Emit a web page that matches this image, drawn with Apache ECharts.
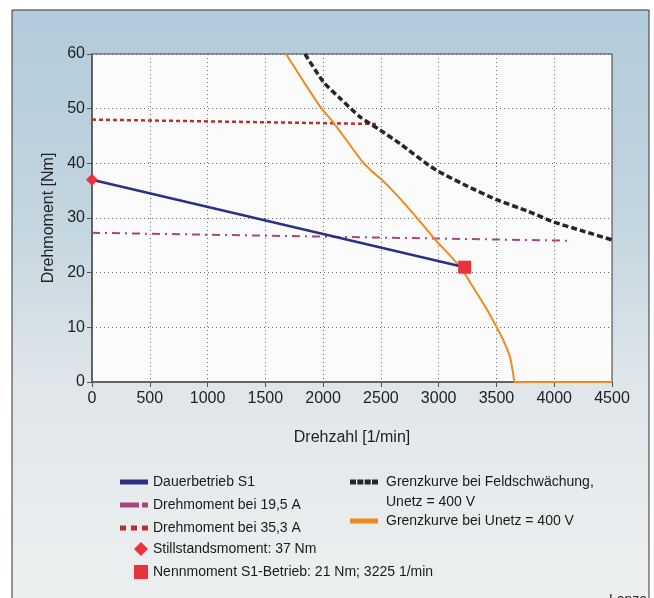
<!DOCTYPE html>
<html><head><meta charset="utf-8">
<script src="https://cdn.jsdelivr.net/npm/echarts@6/dist/echarts.min.js"></script>
<style>html,body{margin:0;padding:0;background:#fff}#c{width:654px;height:598px}</style>
</head><body><div id="c"></div>
<script>
const xTicks = [0,500,1000,1500,2000,2500,3000,3500,4000,4500];
const yTicks = [0,10,20,30,40,50,60];
const dauerS1 = [[0,37],[3225,21]];
const moment195A = [[0,27.3],[4115,25.85]];
const moment353A = [[0,48.0],[2463,47.2]];
const feldschwaechung = [[1843,60],[2002,54.9],[2146,51.9],[2319,48.5],[2492,46.1],[2665,43.6],[2911,39.7],[3000,38.5],[3250,35.8],[3496,33.4],[3776,31.2],[3992,29.3],[4250,27.6],[4500,26.0]];
const unetz = [[1679,60],[1830,55],[1987,50],[2088,47.5],[2210,44],[2340,40.3],[2420,38.6],[2492,37.3],[2620,34.6],[2752,31.5],[2968,26.1],[3185,21.1],[3300,17.3],[3400,13.9],[3500,10.1],[3560,7.6],[3617,4.6],[3645,1.5],[3660,0],[4500,0]];
const stillstand = [[0,37]];
const nennmoment = [[3225,21]];

const names = {
  s1: 'Dauerbetrieb S1',
  a195: 'Drehmoment bei 19,5 A',
  a353: 'Drehmoment bei 35,3 A',
  feld: 'Grenzkurve bei Feldschwächung, Unetz = 400 V',
  unetz: 'Grenzkurve bei Unetz = 400 V',
  still: 'Stillstandsmoment: 37 Nm',
  nenn: 'Nennmoment S1-Betrieb: 21 Nm; 3225 1/min'
};

const FONT = 'Liberation Sans, Arial, Helvetica, sans-serif';
const chart = echarts.init(document.getElementById('c'), null, {renderer:'canvas'});
const legendText = {fontSize:14, color:'#1a1a1a', fontFamily:FONT};
const legendTextR = {fontSize:14, color:'#1a1a1a', fontFamily:FONT, padding:[0,0,0,3]};

const iconBar = 'path://M0,0h28v5h-28z';
const icon195 = 'path://M0,0h19v5h-19z M22,0h6v5h-6z';
const icon353 = 'path://M0,0h6v5h-6z M11,0h6v5h-6z M22,0h6v5h-6z';
const iconFeld = 'path://M0,0h6v5h-6z M7.3,0h6v5h-6z M14.7,0h6v5h-6z M22,0h6v5h-6z';

chart.setOption({
  animation:false,
  graphic:[
    {type:'rect', z:-10, shape:{x:12, y:10, width:637, height:600},
     style:{fill:new echarts.graphic.LinearGradient(0,0,0,1,[
       {offset:0,color:'#b2cbda'},{offset:0.35,color:'#c3d5df'},{offset:0.62,color:'#dfe6ea'},{offset:1,color:'#eef0f0'}]),
       stroke:'#333', lineWidth:1}},
    {type:'text', z:5, left:386, top:495, style:{text:'Unetz = 400 V', fontSize:14, fill:'#1a1a1a', fontFamily:FONT}},
    {type:'text', z:5, left:609, top:593, style:{text:'Lenze', fontSize:14, fill:'#222', fontFamily:FONT}}
  ],
  grid:{left:92, right:42, top:54, bottom:216, show:true, backgroundColor:'#fbfbfb', borderColor:'#444', borderWidth:1},
  xAxis:{type:'value', min:0, max:4500, interval:500,
    name:'Drehzahl [1/min]', nameLocation:'middle', nameGap:48,
    nameTextStyle:{fontSize:16, color:'#222', fontFamily:FONT},
    axisLine:{show:true, lineStyle:{color:'#555', width:1.5}},
    axisTick:{show:true, length:5, lineStyle:{color:'#555'}},
    axisLabel:{fontSize:16, color:'#222', margin:9, fontFamily:FONT,
      formatter:v=>xTicks.includes(v)?String(v):''},
    splitLine:{show:true, lineStyle:{color:'#666', width:1, type:[1,3]}}},
  yAxis:{type:'value', min:0, max:60, interval:10,
    name:'Drehmoment [Nm]', nameLocation:'middle', nameGap:35,
    nameTextStyle:{fontSize:16, color:'#222', fontFamily:FONT},
    axisLine:{show:true, lineStyle:{color:'#555', width:1.5}},
    axisTick:{show:true, length:5, lineStyle:{color:'#555'}},
    axisLabel:{fontSize:16, color:'#222', margin:7, fontFamily:FONT,
      formatter:v=>yTicks.includes(v)?String(v):''},
    splitLine:{show:true, lineStyle:{color:'#666', width:1, type:[1,3]}}},
  legend:[
    {data:[{name:names.s1, icon:iconBar},{name:names.a195, icon:icon195},{name:names.a353, icon:icon353}],
     orient:'vertical', left:115, top:470,
     itemWidth:28, itemHeight:14, itemGap:9, textStyle:legendText, selectedMode:false},
    {data:[names.still,names.nenn], orient:'vertical', left:129, top:537,
     itemWidth:14, itemHeight:14, itemGap:9, textStyle:legendText, selectedMode:false},
    {data:[{name:names.feld, icon:iconFeld}], orient:'vertical', left:345, top:470,
     itemWidth:28, itemHeight:14, textStyle:legendTextR, selectedMode:false,
     formatter:()=> 'Grenzkurve bei Feldschwächung,'},
    {data:[{name:names.unetz, icon:iconBar}], orient:'vertical', left:345, top:509,
     itemWidth:28, itemHeight:14, textStyle:legendTextR, selectedMode:false}
  ],
  series:[
    {name:names.a353, type:'line', data:moment353A, symbol:'none', z:2,
     lineStyle:{color:'#b8302a', width:2.5, type:[4,3]}, itemStyle:{color:'#b8302a'}},
    {name:names.a195, type:'line', data:moment195A, symbol:'none', z:2,
     lineStyle:{color:'#a5467d', width:2, type:[8,5,2,5]}, itemStyle:{color:'#a5467d'}},
    {name:names.feld, type:'line', data:feldschwaechung, symbol:'none', smooth:0.2, z:3,
     lineStyle:{color:'#262626', width:3.5, type:[6,3]}, itemStyle:{color:'#262626'}},
    {name:names.unetz, type:'line', data:unetz, symbol:'none', smooth:0.15, z:3,
     lineStyle:{color:'#f08a1c', width:2}, itemStyle:{color:'#f08a1c'}},
    {name:names.s1, type:'line', data:dauerS1, symbol:'none', z:4,
     lineStyle:{color:'#2b2f88', width:2.5}, itemStyle:{color:'#2b2f88'}},
    {name:names.still, type:'scatter', data:stillstand, symbol:'diamond', symbolSize:12, z:5,
     itemStyle:{color:'#e8323c', opacity:1}},
    {name:names.nenn, type:'scatter', data:nennmoment, symbol:'rect', symbolSize:13, z:5,
     itemStyle:{color:'#e8323c', opacity:1}}
  ]
});
</script></body></html>
